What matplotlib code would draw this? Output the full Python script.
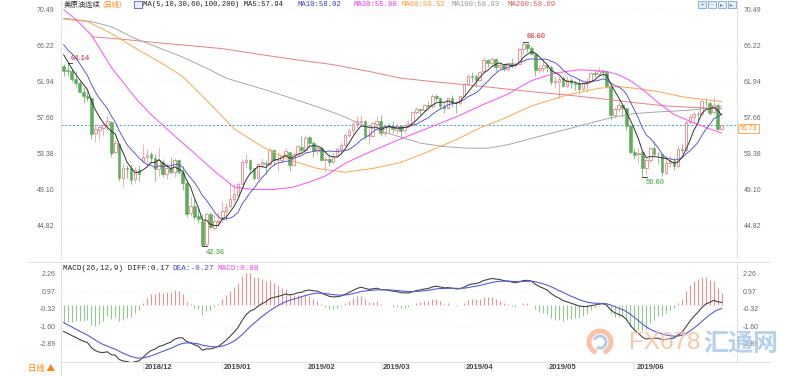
import numpy as np
import matplotlib.pyplot as plt
from matplotlib.patches import Rectangle, Wedge
from matplotlib.transforms import blended_transform_factory, ScaledTranslation

plt.rcParams['font.family'] = ['Liberation Sans', 'Noto Sans CJK SC', 'DejaVu Sans']

# daily bars, 2018-11-02 .. 2019-07-03 (one per trading day)
opens = [63.70, 63.30, 63.10, 62.20, 61.70, 60.70, 60.20, 59.90, 55.80, 56.20,
         56.40, 56.70, 57.10, 53.60, 54.50, 50.50, 51.70, 51.60, 50.30, 51.40,
         52.50, 52.90, 53.30, 52.80, 51.50, 52.40, 51.00, 51.70, 51.20, 52.60,
         51.20, 49.90, 46.30, 47.20, 46.00, 45.40, 42.60, 46.20, 44.60, 45.30,
         45.80, 46.50, 47.20, 48.00, 48.50, 49.80, 52.40, 52.60, 51.60, 50.50,
         52.10, 52.30, 52.10, 53.80, 52.60, 52.60, 53.10, 53.60, 52.00, 53.30,
         54.20, 53.80, 55.30, 54.60, 53.70, 54.00, 52.60, 52.70, 52.40, 53.10,
         53.90, 54.40, 55.60, 56.10, 56.90, 57.10, 57.20, 55.50, 55.50, 56.90,
         57.20, 55.80, 56.60, 56.60, 56.20, 56.60, 56.10, 56.80, 56.90, 58.30,
         58.60, 58.50, 59.10, 59.00, 60.20, 59.90, 59.00, 58.80, 59.90, 59.40,
         59.30, 60.20, 61.60, 62.60, 62.50, 62.10, 63.10, 64.40, 64.10, 64.60,
         63.60, 63.90, 63.40, 64.10, 63.80, 64.00, 65.70, 66.30, 65.90, 65.20,
         63.30, 63.50, 63.90, 63.60, 61.80, 61.90, 62.30, 61.40, 62.10, 61.70,
         61.70, 61.00, 61.80, 62.00, 62.90, 62.80, 63.10, 63.00, 61.40, 57.90,
         58.60, 59.10, 58.80, 56.60, 53.50, 53.30, 53.50, 51.70, 52.60, 54.00,
         53.30, 53.30, 51.10, 52.30, 52.50, 51.90, 53.90, 53.80, 57.10, 57.70,
         58.10, 58.00, 59.50, 59.40, 58.30, 59.10, 56.30]
highs = [63.95, 64.14, 63.40, 63.20, 62.00, 61.30, 60.90, 60.00, 56.90, 56.90,
         57.00, 57.80, 57.20, 55.00, 54.60, 52.30, 52.00, 52.10, 51.80, 52.00,
         54.55, 53.90, 53.50, 53.30, 54.20, 52.70, 52.30, 53.00, 52.80, 52.70,
         51.90, 50.20, 48.30, 48.00, 46.90, 46.20, 46.40, 46.40, 46.20, 46.40,
         47.80, 47.50, 49.80, 49.80, 50.00, 52.70, 53.30, 52.70, 51.70, 52.30,
         52.80, 52.60, 54.00, 53.90, 53.40, 53.30, 54.00, 53.70, 53.50, 54.40,
         55.40, 55.60, 55.50, 54.80, 54.40, 54.30, 53.00, 53.20, 53.40, 54.20,
         54.70, 55.80, 56.40, 57.20, 57.80, 57.90, 57.40, 56.30, 57.10, 57.80,
         57.90, 56.90, 57.00, 57.20, 57.00, 56.80, 56.90, 57.30, 58.40, 58.90,
         58.80, 59.20, 59.60, 60.40, 60.40, 60.10, 59.30, 60.00, 60.30, 59.60,
         60.30, 61.70, 62.80, 63.00, 62.80, 63.20, 64.80, 64.60, 64.80, 64.70,
         64.20, 64.10, 64.20, 64.70, 64.20, 65.90, 66.60, 66.40, 66.10, 65.30,
         63.80, 64.40, 64.00, 63.80, 62.50, 62.60, 62.60, 62.50, 62.30, 62.00,
         62.20, 61.90, 62.30, 63.00, 63.40, 63.60, 63.40, 63.00, 61.50, 58.90,
         59.50, 59.20, 58.90, 56.90, 54.00, 54.00, 53.60, 53.00, 54.10, 54.80,
         53.50, 53.40, 53.20, 53.10, 53.00, 54.40, 54.50, 57.30, 58.00, 58.30,
         58.40, 59.70, 60.00, 59.60, 60.10, 59.40, 56.90]
lows = [62.60, 62.55, 61.85, 61.30, 60.60, 59.30, 59.60, 55.10, 54.75, 55.00,
        55.60, 56.10, 52.90, 53.30, 50.10, 49.40, 50.50, 49.80, 49.90, 50.10,
        52.20, 52.30, 52.20, 50.10, 50.70, 50.60, 50.40, 50.90, 50.60, 51.00,
        49.00, 45.80, 46.00, 45.50, 45.10, 42.36, 42.40, 44.40, 44.30, 44.80,
        45.10, 45.40, 46.90, 47.60, 48.20, 49.70, 51.60, 51.00, 50.20, 50.40,
        51.60, 51.00, 51.90, 52.00, 51.30, 52.20, 52.90, 51.30, 51.90, 53.20,
        53.50, 53.60, 54.10, 53.00, 53.20, 52.50, 51.20, 51.90, 52.30, 52.90,
        53.30, 54.30, 55.30, 55.70, 56.40, 56.60, 55.10, 54.50, 55.30, 56.60,
        55.40, 55.50, 55.80, 55.80, 55.70, 55.10, 55.80, 56.50, 56.70, 58.00,
        57.90, 58.30, 58.70, 58.80, 59.60, 58.60, 58.20, 58.70, 58.90, 58.20,
        59.10, 60.20, 61.50, 61.80, 61.20, 62.00, 63.00, 63.60, 63.80, 63.20,
        63.40, 63.20, 63.20, 63.50, 63.50, 64.00, 65.20, 65.40, 65.00, 62.50,
        62.90, 63.00, 63.00, 61.50, 61.10, 60.00, 61.20, 61.20, 61.10, 60.90,
        60.40, 60.80, 60.60, 61.80, 62.40, 62.60, 62.40, 61.10, 57.30, 57.60,
        58.30, 57.70, 56.20, 53.30, 52.70, 52.30, 50.60, 50.90, 52.30, 53.10,
        52.30, 50.70, 50.90, 51.80, 51.40, 51.60, 53.40, 53.70, 56.90, 57.00,
        57.20, 57.80, 59.00, 57.90, 58.10, 56.10, 56.20]
closes = [63.14, 63.10, 62.21, 61.67, 60.67, 60.19, 59.93, 55.69, 56.25, 56.46,
          56.76, 57.20, 53.43, 54.63, 50.42, 51.63, 51.56, 50.29, 51.45, 50.93,
          52.95, 53.25, 52.89, 51.49, 52.61, 51.00, 51.65, 51.15, 52.58, 51.20,
          49.88, 46.24, 47.20, 45.88, 45.59, 42.53, 46.22, 44.61, 45.33, 45.41,
          46.54, 47.09, 47.96, 48.52, 49.78, 52.36, 52.59, 51.59, 50.51, 52.11,
          52.31, 52.07, 53.80, 52.57, 52.62, 53.13, 53.69, 51.99, 53.31, 54.23,
          53.79, 55.26, 54.56, 53.66, 54.01, 52.64, 52.72, 52.41, 53.10, 53.90,
          54.41, 55.59, 56.09, 56.92, 57.26, 57.26, 55.48, 55.50, 56.94, 57.22,
          55.80, 56.59, 56.56, 56.22, 56.66, 56.07, 56.79, 56.87, 58.26, 58.61,
          58.52, 59.09, 59.03, 60.23, 59.98, 59.04, 58.82, 59.94, 59.41, 59.30,
          60.14, 61.59, 62.58, 62.46, 62.10, 63.08, 64.40, 64.05, 64.61, 63.58,
          63.89, 63.40, 64.05, 63.76, 64.00, 65.70, 66.30, 65.89, 65.21, 63.30,
          63.50, 63.91, 63.60, 61.81, 61.94, 62.25, 61.40, 62.12, 61.70, 61.66,
          61.04, 61.78, 62.02, 62.87, 62.76, 63.10, 62.99, 61.42, 57.91, 58.63,
          59.14, 58.81, 56.59, 53.50, 53.25, 53.48, 51.68, 52.59, 53.99, 53.26,
          53.27, 51.14, 52.28, 52.51, 51.93, 53.90, 53.76, 57.05, 57.75, 58.10,
          58.05, 59.55, 59.43, 58.20, 59.09, 56.25, 56.73]
# closes just before the window (needed for MA5 / MA10 at the first bars)
prior_closes = [69.17, 66.43, 66.82, 67.33, 67.59, 67.04, 66.18, 65.31, 63.69]

# long moving averages (bar index, value)
ma30_idx = [0, 3, 7, 12, 18, 22, 26, 32, 38, 43, 48, 53, 58, 62, 66, 71, 77, 84, 92,
            99, 106, 112, 118, 124, 130, 137, 140, 143, 146, 150, 154, 159, 163, 166]
ma30_val = [70.4, 69.3, 67.4, 63.6, 60.0, 58.0, 56.3, 53.8, 51.3, 49.4, 49.1, 49.1, 49.4,
            50.0, 50.7, 52.2, 53.5, 54.9, 56.4, 57.7, 59.2, 60.4, 62.0, 62.9, 63.3, 63.1,
            62.7, 62.0, 61.0, 59.4, 58.0, 57.0, 56.3, 55.8]
ma60_idx = [0, 6, 12, 19, 25, 30, 36, 43, 50, 57, 64, 71, 78, 85, 92, 99, 105, 111,
            118, 127, 135, 140, 144, 150, 156, 161, 166]
ma60_val = [69.3, 69.0, 67.6, 65.6, 64.0, 62.5, 59.7, 56.3, 54.2, 52.6, 51.6, 51.15,
            51.6, 52.3, 53.6, 55.0, 56.4, 57.5, 59.0, 60.3, 61.1, 61.3, 61.1, 60.7,
            60.1, 59.8, 59.52]
ma100_idx = [0, 7, 12, 18, 24, 30, 36, 41, 46, 51, 57, 64, 70, 76, 83, 90, 96, 102,
             107, 112, 120, 129, 138, 144, 150, 158, 166]
ma100_val = [69.4, 69.0, 68.4, 67.0, 65.9, 64.8, 63.5, 62.3, 61.6, 60.9, 60.0, 58.9,
             57.9, 56.6, 55.6, 54.6, 54.2, 54.0, 54.0, 54.4, 55.4, 56.5, 57.6, 58.1,
             58.3, 58.5, 58.93]
ma200_idx = [7, 15, 26, 40, 51, 60, 68, 77, 85, 95, 102, 110, 118, 127, 135, 144,
             152, 158, 166]
ma200_val = [67.2, 66.9, 66.4, 65.8, 65.0, 64.4, 63.9, 63.1, 62.3, 61.8, 61.5, 61.1,
             60.7, 60.3, 59.9, 59.4, 59.0, 58.85, 58.69]

macd_seed = [66.61, 68.60, -1.33]   # ema12, ema26, dea on the first bar
last_price = 56.73

month_start = [20, 40, 61, 80, 101, 122, 144]
month_labels = ['2018/12', '2019/01', '2019/02', '2019/03', '2019/04', '2019/05', '2019/06']
price_ticks = [44.82, 49.10, 53.38, 57.66, 61.94, 66.22, 70.49]
macd_ticks = [-2.89, -1.60, -0.32, 0.97, 2.26]

# ---- derived series
o = np.array(opens); h = np.array(highs); l = np.array(lows); c = np.array(closes)
n = len(c)
x = np.arange(n)
full = np.r_[prior_closes, c]
ma5 = np.convolve(full, np.ones(5) / 5, 'valid')[-n:]
ma10 = np.convolve(full, np.ones(10) / 10, 'valid')[-n:]

e12, e26, d0 = macd_seed
diff = np.zeros(n); dea = np.zeros(n)
diff[0] = e12 - e26; dea[0] = d0
for i in range(1, n):
    e12 += (c[i] - e12) * 2 / 13
    e26 += (c[i] - e26) * 2 / 27
    diff[i] = e12 - e26
    dea[i] = dea[i - 1] + (diff[i] - dea[i - 1]) * 0.2
hist = 2 * (diff - dea)

# ---- layout (pixel boxes)
W, H = 800, 376
def box(x0, y0, x1, y1):
    return [x0 / W, 1 - y1 / H, (x1 - x0) / W, (y1 - y0) / H]

fig = plt.figure(figsize=(8, 3.76), dpi=100)
ax = fig.add_axes(box(61, 0, 737, 258))
ax2 = fig.add_axes(box(61, 262, 737, 362))
xl = (-0.68, 169.9)

up = c >= o
red_e, red_w = '#ee8585', '#f2a0a0'
grn_f, grn_w = '#5dad5d', '#76bb76'

# candles
ax.vlines(x[up], l[up], h[up], color=red_w, lw=0.6, zorder=2)
ax.vlines(x[~up], l[~up], h[~up], color=grn_w, lw=0.6, zorder=2)
body = np.maximum(np.abs(c - o), 0.04)
ax.bar(x[up], body[up], bottom=np.minimum(o, c)[up], width=0.66,
       facecolor='white', edgecolor=red_e, lw=0.6, zorder=3)
ax.bar(x[~up], body[~up], bottom=np.minimum(o, c)[~up], width=0.66,
       facecolor=grn_f, edgecolor=grn_f, lw=0.4, zorder=3)

# moving averages
ax.plot(ma200_idx, ma200_val, color='#e88080', lw=0.7, zorder=4)
ax.plot(ma100_idx, ma100_val, color='#a8a8a8', lw=0.7, zorder=4)
ax.plot(ma60_idx, ma60_val, color='#ffa54f', lw=0.7, zorder=4)
ax.plot(ma30_idx, ma30_val, color='#ff4dff', lw=0.7, zorder=4)
ax.plot(x, ma10, color='#5c5ccc', lw=0.7, zorder=5)
ax.plot(x, ma5, color='#333333', lw=0.7, zorder=5)

ax.axhline(last_price, color='#3399ff', lw=0.7, ls=(0, (2, 2)), zorder=1)
blend = blended_transform_factory(ax.transAxes, ax.transData)
ax.text(1.004, last_price, '%.2f' % last_price, transform=blend, ha='left', va='top',
        fontsize=5, color='#ff8a1a',
        bbox=dict(boxstyle='square,pad=0.18', fc='white', ec='#ff9f40', lw=0.6))

# high / low marks
hi1 = int(np.argmax(h[:20])); hi2 = int(np.argmax(h))
lo1 = int(np.argmin(l)); lo2 = int(np.argmin(l[100:])) + 100
for i, v, col, dy in [(hi1, h[hi1], '#e25c5c', 3.2), (hi2, h[hi2], '#e25c5c', 3.6),
                      (lo1, l[lo1], '#6cbb6c', -4.2), (lo2, l[lo2], '#6cbb6c', -3.8)]:
    ax.plot([i, i + 1.1], [v, v], color='#222222', lw=0.6, zorder=6)
    ax.annotate('%.2f' % v, (i, v), xytext=(2.5, dy), textcoords='offset points',
                ha='left', va='center', fontsize=5.5, color=col, fontweight='bold')

ax.set_xlim(*xl)
ax.set_ylim(40.99, 71.56)
ax.set_xticks([])
ax.set_yticks(price_ticks)
ax.set_yticklabels(['%.2f' % v for v in price_ticks])
ax.tick_params(axis='y', length=0, pad=5, labelsize=5, labelcolor='#666666',
               labelleft=True, labelright=True)
ax.grid(axis='y', color='#efefef', lw=0.5, ls=':')

# MACD panel
ax2.vlines(x[hist >= 0], 0, hist[hist >= 0], color='#f29090', lw=0.8)
ax2.vlines(x[hist < 0], 0, hist[hist < 0], color='#92c992', lw=0.8)
ax2.plot(x, diff, color='#444444', lw=0.8)
ax2.plot(x, dea, color='#5b5bd6', lw=0.8)
ax2.set_xlim(*xl)
ax2.set_ylim(-4.23, 3.145)
ax2.set_yticks(macd_ticks)
ax2.set_yticklabels(['%.2f' % v for v in macd_ticks])
ax2.tick_params(axis='y', length=0, pad=4, labelsize=5, labelcolor='#666666',
                labelleft=True, labelright=True)
ax2.grid(axis='y', color='#ececec', lw=0.5, ls=':')
ax2.set_xticks(month_start)
ax2.set_xticklabels(month_labels)
ax2.tick_params(axis='x', length=5.8, width=0.6, color='#dddddd', pad=-4.2,
                labelsize=5.5, labelcolor='#444444')
for lab in ax2.get_xticklabels():
    lab.set_horizontalalignment('left')
    lab.set_fontweight('bold')
    lab.set_transform(lab.get_transform() + ScaledTranslation(2 / 100, 0, fig.dpi_scale_trans))

for a in (ax, ax2):
    a.spines['top'].set_visible(False)
    for s in ('left', 'right'):
        a.spines[s].set_linestyle(':')
        a.spines[s].set_color('#d0d0d0')
        a.spines[s].set_linewidth(0.6)
ax.spines['bottom'].set_visible(False)
ax2.spines['bottom'].set_color('#dddddd')
ax2.spines['bottom'].set_linewidth(0.6)

# ---- overlay: legends, separators, watermark
dx = fig.add_axes([0, 0, 1, 1], zorder=10)
dx.set_xlim(0, W); dx.set_ylim(H, 0); dx.axis('off'); dx.patch.set_alpha(0)

mono = ['Liberation Mono', 'Noto Sans CJK SC']
top_items = [(64, '美原油连续', '#333333', ['Noto Sans CJK SC']),
             (102, '(日线)', '#ff8000', ['Noto Sans CJK SC']),
             (143, 'MA(5,10,30,60,100,200) MA5:57.94', '#222222', mono),
             (297, 'MA10:58.02', '#3c3cc8', mono),
             (353, 'MA30:55.80', '#ff33ff', mono),
             (401, 'MA60:59.52', '#ff9933', mono),
             (452, 'MA100:58.93', '#999999', mono),
             (508, 'MA200:58.69', '#e05a5a', mono)]
for px, s, col, fam in top_items:
    dx.text(px, 4.5, s, color=col, fontsize=5.3, family=fam, va='center', ha='left')
dx.add_patch(Rectangle((133.5, 0.8), 8, 7, fc='#ececff', ec='#5a5acc', lw=0.6))

for k in range(4):
    dx.add_patch(Rectangle((697.5 + 10 * k, 0.6), 8, 7.5, fc='#e4eefa', ec='#7aa6d6', lw=0.6))
    dx.text(701.5 + 10 * k, 4.4, ['+', '-', '▸', '▸'][k], fontsize=4, color='#4d7fbf',
            ha='center', va='center', family=['DejaVu Sans'])

macd_items = [(63, 'MACD(26,12,9) DIFF:0.17', '#222222'),
              (172, 'DEA:-0.27', '#4646d2'),
              (218, 'MACD:0.88', '#ff3cff')]
for px, s, col in macd_items:
    dx.text(px, 268, s, color=col, fontsize=5.5, family=mono, va='center', ha='left')

dx.plot([28, 770], [261.5, 261.5], color='#dddddd', lw=0.6)
dx.plot([737, 770], [362, 362], color='#dddddd', lw=0.6)
dx.plot([61, 61], [362, 376], color='#d6d6d6', lw=0.6)
dx.text(28, 369, '日线 ▲', color='#ff7f00', fontsize=6, va='center', ha='left',
        family=['Noto Sans CJK SC', 'DejaVu Sans'])

# watermark
dx.add_patch(Wedge((600, 342), 13.5, 110, 430, width=5, fc='#f6b08c', alpha=0.75))
dx.add_patch(Wedge((600, 342), 7.5, 200, 480, width=3, fc='#9cc2e8', alpha=0.8))
dx.text(629, 343, 'FX678', fontsize=17.5, color='#f6bf99', alpha=0.85, va='center',
        ha='left', family=['Liberation Sans'])
dx.text(703, 344, '汇通网', fontsize=18, color='#a9c9ea', alpha=0.85, va='center',
        ha='left', fontweight='bold', family=['Noto Sans CJK SC'])

fig.savefig('out.png', dpi=100)
